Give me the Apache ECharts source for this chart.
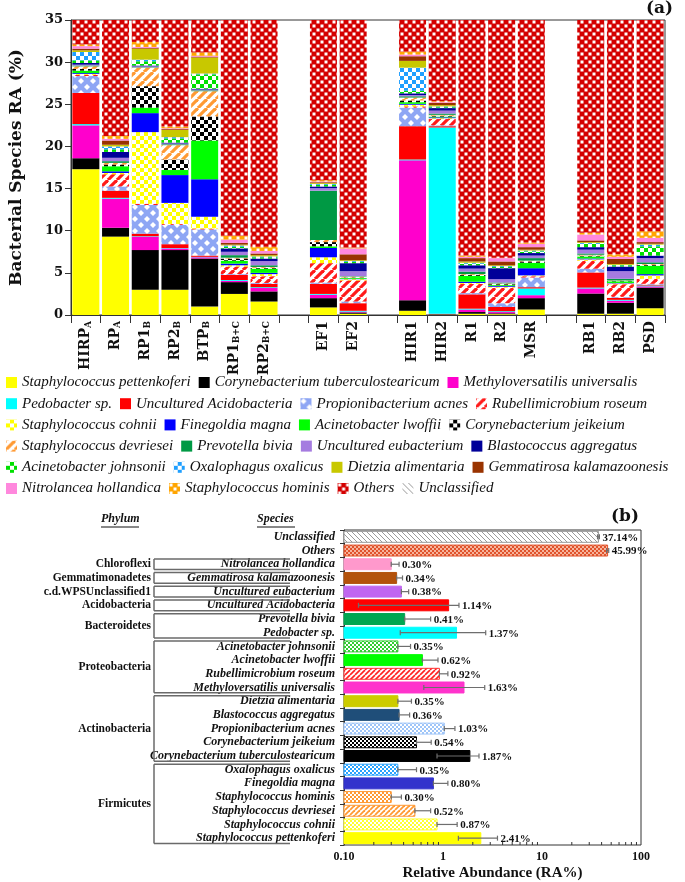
<!DOCTYPE html>
<html>
<head>
<meta charset="utf-8">
<title>Bacterial species RA</title>
<script src="https://cdn.jsdelivr.net/npm/echarts@6/dist/echarts.min.js"></script>
<style>
  html, body { margin: 0; padding: 0; background: #fff; }
  #chart { width: 685px; height: 882px; }
</style>
</head>
<body>
<div id="chart"></div>
<script>
// ---------- panel (a): species RA per sample (stack order bottom -> top) ----------
var samples = ['HIRP_A', 'RP_A', 'RP1_B', 'RP2_B', 'BTP_B', 'RP1_B+C', 'RP2_B+C',
               'EF1', 'EF2', 'HIR1', 'HIR2', 'R1', 'R2', 'MSR', 'RB1', 'RB2', 'PSD'];
var groupSizes = [7, 2, 5, 3];

var sPettenkoferi  = [17.3, 9.3, 3.0, 3.0, 1.0, 2.5, 1.6, 0.9, 0.15, 0.5, 0.05, 0.15, 0.1, 0.65, 0.15, 0.15, 0.8];
var cTuberculo     = [1.3, 1.05, 4.7, 4.7, 5.7, 1.4, 1.2, 1.1, 0.15, 1.25, 0.05, 0.2, 0.1, 1.35, 2.4, 1.3, 2.45];
var mUniversalis   = [3.9, 3.45, 1.6, 0.2, 0.15, 0.15, 0.4, 0.4, 0.1, 16.6, 0.05, 0.3, 0.15, 0.35, 0.6, 0.25, 0.15];
var pedobacter     = [0.15, 0.1, 0.05, 0.05, 0.05, 0.1, 0.1, 0.1, 0.1, 0.1, 22.1, 0.1, 0.1, 0.8, 0.1, 0.1, 0.1];
var uAcidobacteria = [3.7, 0.85, 0.3, 0.45, 0.15, 0.6, 0.4, 1.2, 0.9, 3.95, 0.15, 1.7, 0.5, 0.15, 1.8, 0.25, 0.1];
var pAcnes         = [2.0, 0.5, 3.4, 2.3, 3.1, 0.1, 0.1, 0.15, 0.2, 2.2, 0.1, 0.15, 0.45, 1.15, 0.45, 0.1, 0.1];
var rRoseum        = [0.15, 1.45, 0.15, 0.1, 0.1, 0.9, 0.8, 2.3, 2.5, 0.15, 0.75, 1.1, 1.85, 0.15, 0.95, 1.5, 0.6];
var sCohnii        = [0.1, 0.15, 8.5, 2.5, 1.4, 0.15, 0.25, 0.7, 0.15, 0.2, 0.1, 0.1, 0.1, 0.1, 0.15, 0.1, 0.4];
var fMagna         = [0.1, 0.2, 2.25, 3.3, 4.45, 0.2, 0.15, 1.1, 0.05, 0.1, 0.1, 0.15, 0.1, 0.85, 0.1, 0.05, 0.15];
var aLwoffii       = [0.3, 0.6, 0.65, 0.6, 4.6, 0.35, 0.5, 0.2, 0.1, 0.2, 0.1, 0.7, 0.1, 0.65, 0.25, 0.2, 1.0];
var cJeikeium      = [0.2, 0.2, 2.55, 1.25, 2.85, 0.25, 0.1, 0.5, 0.05, 0.2, 0.1, 0.1, 0.1, 0.15, 0.1, 0.05, 0.1];
var sDevriesei     = [0.3, 0.2, 2.2, 1.7, 3.0, 0.1, 0.1, 0.25, 0.1, 0.35, 0.1, 0.1, 0.1, 0.1, 0.1, 0.05, 0.1];
var pBivia         = [0.1, 0.2, 0.05, 0.1, 0.1, 0.3, 0.2, 5.85, 0.05, 0.15, 0.15, 0.3, 0.1, 0.3, 0.15, 0.2, 0.2];
var uEubacterium   = [0.1, 0.4, 0.1, 0.1, 0.1, 0.4, 0.5, 0.3, 0.6, 0.15, 0.35, 0.35, 0.4, 0.3, 0.45, 0.9, 0.5];
var bAggregatus    = [0.2, 0.7, 0.1, 0.1, 0.1, 0.4, 0.3, 0.2, 0.95, 0.2, 0.3, 0.4, 1.3, 0.3, 0.3, 0.55, 0.3];
var aJohnsonii     = [0.3, 0.3, 0.5, 0.5, 1.7, 0.2, 0.15, 0.2, 0.15, 0.3, 0.1, 0.2, 0.15, 0.2, 0.4, 0.15, 1.1];
var oOxalicus      = [1.0, 0.35, 0.2, 0.15, 0.1, 0.15, 0.1, 0.1, 0.1, 2.75, 0.1, 0.1, 0.1, 0.1, 0.1, 0.05, 0.2];
var dAlimentaria   = [0.2, 0.2, 1.3, 0.85, 1.9, 0.1, 0.15, 0.1, 0.1, 0.8, 0.15, 0.15, 0.1, 0.1, 0.1, 0.1, 0.1];
var gKalamazoo     = [0.2, 0.5, 0.1, 0.1, 0.1, 0.2, 0.2, 0.1, 0.7, 0.55, 0.25, 0.4, 0.45, 0.3, 0.2, 0.6, 0.2];
var nHollandica    = [0.3, 0.2, 0.1, 0.1, 0.1, 0.4, 0.3, 0.1, 0.7, 0.2, 0.1, 0.15, 0.4, 0.4, 0.7, 0.25, 0.5];
var sHominis       = [0.2, 0.35, 0.6, 0.2, 0.4, 0.45, 0.5, 0.15, 0.1, 0.35, 0.1, 0.15, 0.05, 0.15, 0.2, 0.3, 0.8];
var others         = [40, 45, 38, 44, 42, 50, 52, 48, 55, 36, 41, 58, 57, 53, 51, 56, 50];
var unclassified   = [28, 33, 30, 34, 27, 41, 40, 36, 37, 33, 34, 35, 36, 38, 39, 37, 40];

var speciesNames = ['Staphylococcus pettenkoferi', 'Corynebacterium tuberculostearicum', 'Methyloversatilis universalis',
  'Pedobacter sp.', 'Uncultured Acidobacteria', 'Propionibacterium acnes', 'Rubellimicrobium roseum',
  'Staphylococcus cohnii', 'Finegoldia magna', 'Acinetobacter lwoffii', 'Corynebacterium jeikeium',
  'Staphylococcus devriesei', 'Prevotella bivia', 'Uncultured eubacterium', 'Blastococcus aggregatus',
  'Acinetobacter johnsonii', 'Oxalophagus oxalicus', 'Dietzia alimentaria', 'Gemmatirosa kalamazoonesis',
  'Nitrolancea hollandica', 'Staphylococcus hominis', 'Others', 'Unclassified'];
var speciesData = [sPettenkoferi, cTuberculo, mUniversalis, pedobacter, uAcidobacteria, pAcnes, rRoseum,
  sCohnii, fMagna, aLwoffii, cJeikeium, sDevriesei, pBivia, uEubacterium, bAggregatus, aJohnsonii,
  oOxalicus, dAlimentaria, gKalamazoo, nHollandica, sHominis, others, unclassified];

// ---------- panel (b): mean RA (%) with error bars, top -> bottom ----------
var abSpecies = ['Unclassified', 'Others', 'Nitrolancea hollandica', 'Gemmatirosa kalamazoonesis',
  'Uncultured eubacterium', 'Uncultured Acidobacteria', 'Prevotella bivia', 'Pedobacter sp.',
  'Acinetobacter johnsonii', 'Acinetobacter lwoffii', 'Rubellimicrobium roseum', 'Methyloversatilis universalis',
  'Dietzia alimentaria', 'Blastococcus aggregatus', 'Propionibacterium acnes', 'Corynebacterium jeikeium',
  'Corynebacterium tuberculostearicum', 'Oxalophagus oxalicus', 'Finegoldia magna', 'Staphylococcus hominis',
  'Staphylococcus devriesei', 'Staphylococcus cohnii', 'Staphylococcus pettenkoferi'];
var abMean = [37.14, 45.99, 0.30, 0.34, 0.38, 1.14, 0.41, 1.37, 0.35, 0.62, 0.92, 1.63,
              0.35, 0.36, 1.03, 0.54, 1.87, 0.35, 0.80, 0.30, 0.52, 0.87, 2.41];
var abLow  = [36.4, 44.9, 0.30, 0.34, 0.38, 0.14, 0.41, 0.37, 0.35, 0.62, 0.92, 0.64,
              0.35, 0.36, 1.03, 0.54, 0.87, 0.35, 0.80, 0.30, 0.52, 0.87, 1.43];
var abHigh = [38.0, 47.2, 0.36, 0.39, 0.45, 1.45, 0.75, 2.70, 0.47, 0.89, 1.12, 2.64,
              0.48, 0.46, 1.32, 0.76, 2.31, 0.54, 1.12, 0.38, 0.75, 1.39, 3.55];
var phyla      = ['Chloroflexi', 'Gemmatimonadetes', 'c.d.WPSUnclassified1', 'Acidobacteria',
                  'Bacteroidetes', 'Proteobacteria', 'Actinobacteria', 'Firmicutes'];
var phylumFrom = [2, 3, 4, 5, 6, 8, 12, 17];
var phylumTo   = [2, 3, 4, 5, 7, 11, 16, 22];
var xMinorTicks = [0.2, 0.3, 0.4, 0.5, 0.6, 0.7, 0.8, 0.9, 2, 3, 4, 5, 6, 7, 8, 9, 20, 30, 40, 50, 60, 70, 80, 90];

// ---------- fills ----------
function tile(size, draw) {
  var c = document.createElement('canvas');
  c.width = c.height = size;
  draw(c.getContext('2d'), size);
  return { image: c, repeat: 'repeat' };
}
function checker(bg, fg, s) {
  return tile(2 * s, function (x) {
    x.fillStyle = bg; x.fillRect(0, 0, 2 * s, 2 * s);
    x.fillStyle = fg; x.fillRect(0, 0, s, s); x.fillRect(s, s, s, s);
  });
}
function stripes(bg, fg, s, w, back) {
  return tile(s, function (x) {
    x.fillStyle = bg; x.fillRect(0, 0, s, s);
    x.strokeStyle = fg; x.lineWidth = w;
    for (var k = -s; k <= s; k += s) {
      x.beginPath();
      if (back) { x.moveTo(k, 0); x.lineTo(k + s, s); } else { x.moveTo(k, s); x.lineTo(k + s, 0); }
      x.stroke();
    }
  });
}
function diamonds(bg, fg, s, r) {
  return tile(s, function (x) {
    x.fillStyle = bg; x.fillRect(0, 0, s, s);
    x.fillStyle = fg;
    [[s / 4, s / 4], [3 * s / 4, 3 * s / 4]].forEach(function (p) {
      x.beginPath(); x.moveTo(p[0], p[1] - r); x.lineTo(p[0] + r, p[1]);
      x.lineTo(p[0], p[1] + r); x.lineTo(p[0] - r, p[1]); x.closePath(); x.fill();
    });
  });
}
function spots(bg, fg, s, w) {
  return tile(s, function (x) {
    x.fillStyle = bg; x.fillRect(0, 0, s, s);
    x.fillStyle = fg; x.fillRect(0.5, 0.5, w, w); x.fillRect(s / 2 + 0.5, s / 2 + 0.5, w, w);
  });
}

var fillsA = ['#ffff00', '#000000', '#ff00cc', '#00ffff', '#ff0000',
  diamonds('#8ea6f4', '#ffffff', 12, 3), stripes('#ffffff', '#ff1a1a', 9, 3.2),
  checker('#ffff00', '#ffffff', 4), '#0000ff', '#00ff00', checker('#000000', '#ffffff', 4),
  stripes('#ffffff', '#ff9a33', 9, 3.2), '#009944', '#a57be0', '#000099', checker('#00e000', '#ffffff', 4),
  checker('#1e9fff', '#ffffff', 4), '#c8c800', '#993300', '#ff88dd', spots('#ffa500', '#ffffff', 8, 3),
  spots('#d40000', '#ffffff', 8, 3), stripes('#ffffff', '#999999', 6, 1, true)];

var fillsB = ['#ffffff', '#e0532c', '#ff99cc', '#b3520b', '#c066f0', '#ff0000', '#00a651', '#00ffff',
  '#33cc33', '#00ff00', '#ff3333', '#ff33cc', '#cccc00', '#1f4e79', '#9fc5f8', '#000000', '#000000',
  '#29a3ff', '#3333cc', '#ff9933', '#ff9933', '#ffff33', '#ffff00'];
var patB = {
  0: stripes('#ffffff', '#9a9a9a', 5, 1, true), 1: checker('#e0532c', '#f7b49c', 2),
  8: checker('#33cc33', '#ffffff', 2), 10: stripes('#ffffff', '#ff2020', 5, 1.6),
  14: checker('#9fc5f8', '#ffffff', 2), 15: checker('#000000', '#ffffff', 2),
  17: checker('#29a3ff', '#ffffff', 2), 19: checker('#ff9933', '#ffffff', 2),
  20: stripes('#ffffff', '#ff9933', 5, 1.8), 21: checker('#ffff33', '#ffffff', 2)
};

// ---------- categories with gaps between sample groups ----------
var categories = [];
(function () {
  var k = 0;
  groupSizes.forEach(function (n, g) {
    if (g > 0) categories.push('gap' + g);
    for (var i = 0; i < n; i++) categories.push(samples[k++]);
  });
})();
function withGaps(arr) {
  var out = [], k = 0;
  categories.forEach(function (c) { out.push(c.indexOf('gap') === 0 ? '-' : arr[k++]); });
  return out;
}

var SERIF = 'DejaVu Serif';
var LIB = 'Liberation Serif';

var seriesA = speciesNames.map(function (name, i) {
  return {
    name: name, type: 'bar', stack: 'a', xAxisIndex: 0, yAxisIndex: 0,
    barWidth: 27, data: withGaps(speciesData[i]),
    itemStyle: { color: fillsA[i] }
  };
});

var legendRows = [
  speciesNames.slice(0, 3), speciesNames.slice(3, 7), speciesNames.slice(7, 11),
  speciesNames.slice(11, 15), speciesNames.slice(15, 19), speciesNames.slice(19, 23)
];
var legends = legendRows.map(function (row, r) {
  return {
    data: row, left: 1, top: 370 + r * 21.2, orient: 'horizontal',
    icon: 'rect', itemWidth: 11, itemHeight: 11, itemGap: 8, selectedMode: false,
    textStyle: { fontFamily: LIB, fontStyle: 'italic', fontSize: 15, color: '#111' }
  };
});

// panel (b) custom renderers
function bandH(params) { return params.coordSys.height / abSpecies.length; }

var seriesB = [
  {
    type: 'custom', name: 'abBars', xAxisIndex: 1, yAxisIndex: 1,
    encode: { x: 0, y: 1 },
    data: abMean.map(function (v, i) { return [v, i]; }),
    renderItem: function (params, api) {
      var i = api.value(1);
      var p0 = api.coord([0.1, i]), p1 = api.coord([api.value(0), i]);
      var h = bandH(params) * 0.8;
      var fill = patB[i] || fillsB[i];
      return {
        type: 'rect',
        shape: { x: p0[0], y: p0[1] - h / 2, width: p1[0] - p0[0], height: h },
        style: { fill: fill, stroke: i === 0 ? '#999' : fillsB[i], lineWidth: 1 }
      };
    }
  },
  {
    type: 'custom', name: 'abErr', xAxisIndex: 1, yAxisIndex: 1,
    encode: { x: [0, 1], y: 2 },
    data: abMean.map(function (v, i) { return [abLow[i], abHigh[i], i, v]; }),
    renderItem: function (params, api) {
      var i = api.value(2);
      var a = api.coord([api.value(0), i]), b = api.coord([api.value(1), i]);
      var y = a[1], c = 2.5;
      var st = { stroke: '#6e6e6e', lineWidth: 1.2 };
      return {
        type: 'group', children: [
          { type: 'line', shape: { x1: a[0], y1: y, x2: b[0], y2: y }, style: st },
          { type: 'line', shape: { x1: a[0], y1: y - c, x2: a[0], y2: y + c }, style: st },
          { type: 'line', shape: { x1: b[0], y1: y - c, x2: b[0], y2: y + c }, style: st },
          { type: 'text', style: { text: api.value(3).toFixed(2) + '%', x: b[0] + 3, y: y + 1,
              align: 'left', verticalAlign: 'middle', fill: '#111',
              font: 'bold 11px "Liberation Serif"' } }
        ]
      };
    }
  },
  {
    type: 'custom', name: 'phyla', xAxisIndex: 1, yAxisIndex: 1,
    encode: { x: 2, y: [0, 1] },
    data: phyla.map(function (p, k) { return [phylumFrom[k], phylumTo[k], 1]; }),
    renderItem: function (params, api) {
      var k = params.dataIndex;
      var bh = bandH(params);
      var top = api.coord([1, api.value(0)])[1] - bh / 2 + 1.5;
      var bot = api.coord([1, api.value(1)])[1] + bh / 2 - 1.5;
      var x0 = params.coordSys.x;
      var xv = x0 - 190, xr = x0 - 54;
      var st = { stroke: '#6a6a6a', lineWidth: 1.5 };
      return {
        type: 'group', children: [
          { type: 'line', shape: { x1: xv, y1: top, x2: xv, y2: bot }, style: st },
          { type: 'line', shape: { x1: xv, y1: top, x2: xr, y2: top }, style: st },
          { type: 'line', shape: { x1: xv, y1: bot, x2: xr, y2: bot }, style: st },
          { type: 'text', style: { text: phyla[k], x: xv - 3, y: (top + bot) / 2,
              align: 'right', verticalAlign: 'middle', fill: '#111',
              font: 'bold 11.5px "Liberation Serif"' } }
        ]
      };
    }
  },
  {
    type: 'custom', name: 'minorTicks', xAxisIndex: 1, yAxisIndex: 1,
    encode: { x: 0, y: 1 },
    data: xMinorTicks.map(function (v) { return [v, 0]; }),
    renderItem: function (params, api) {
      var x = api.coord([api.value(0), 0])[0];
      var b = params.coordSys.y + params.coordSys.height;
      return { type: 'line', shape: { x1: x, y1: b, x2: x, y2: b - 3 }, style: { stroke: '#333', lineWidth: 1 } };
    }
  }
];

var chart = echarts.init(document.getElementById('chart'));
chart.setOption({
  animation: false,
  backgroundColor: '#ffffff',
  legend: legends,
  grid: [
    { left: 70, right: 20, top: 20, height: 295, show: true, borderColor: '#333', borderWidth: 1 },
    { left: 344, right: 44, top: 530, height: 317, show: true, borderColor: '#333', borderWidth: 1 }
  ],
  xAxis: [
    {
      type: 'category', gridIndex: 0, data: categories,
      axisLine: { lineStyle: { color: '#333', width: 1 } },
      axisTick: { show: true, interval: 0, length: 8, lineStyle: { color: '#333' } },
      axisLabel: {
        interval: 0, rotate: 90, margin: 6, color: '#111',
        fontFamily: SERIF, fontWeight: 'bold', fontSize: 14,
        formatter: function (v) {
          if (v.indexOf('gap') === 0) return '';
          var p = v.split('_');
          return p.length > 1 ? p[0] + '{s|' + p[1] + '}' : v;
        },
        rich: { s: { fontFamily: SERIF, fontWeight: 'bold', fontSize: 9, verticalAlign: 'bottom', color: '#111' } }
      }
    },
    {
      type: 'log', gridIndex: 1, min: 0.1, max: 100, logBase: 10,
      name: 'Relative Abundance (RA%)', nameLocation: 'middle', nameGap: 21,
      nameTextStyle: { fontFamily: LIB, fontWeight: 'bold', fontSize: 15, color: '#111' },
      axisLine: { lineStyle: { color: '#333' } },
      axisTick: { inside: true, length: 6, lineStyle: { color: '#333' } },
      splitLine: { show: false },
      axisLabel: {
        margin: 6, color: '#111', fontFamily: LIB, fontWeight: 'bold', fontSize: 12,
        formatter: function (v) { return v < 0.5 ? '0.10' : String(Math.round(v)); }
      }
    }
  ],
  yAxis: [
    {
      type: 'value', gridIndex: 0, min: 0, max: 35, interval: 5,
      name: 'Bacterial Species RA (%)', nameLocation: 'middle', nameGap: 46,
      nameTextStyle: { fontFamily: SERIF, fontWeight: 'bold', fontSize: 17, color: '#111' },
      axisLine: { show: true, lineStyle: { color: '#333' } },
      axisTick: { show: true, length: 6, lineStyle: { color: '#333' } },
      splitLine: { show: false },
      axisLabel: { margin: 8, color: '#111', fontFamily: SERIF, fontWeight: 'bold', fontSize: 13 }
    },
    {
      type: 'category', gridIndex: 1, data: abSpecies, inverse: true,
      axisLine: { lineStyle: { color: '#333' } },
      axisTick: { show: true, interval: 0, length: 4, lineStyle: { color: '#333' } },
      axisLabel: {
        interval: 0, margin: 9, color: '#111', fontFamily: LIB,
        fontWeight: 'bold', fontStyle: 'italic', fontSize: 12
      }
    }
  ],
  graphic: [
    { type: 'text', right: 12, top: 0, style: { text: '(a)', font: 'bold 17px "DejaVu Serif"', fill: '#111' } },
    { type: 'text', left: 611, top: 508, style: { text: '(b)', font: 'bold 17px "DejaVu Serif"', fill: '#111' } },
    { type: 'text', left: 101, top: 513, style: { text: 'Phylum', font: 'italic bold 12px "Liberation Serif"', fill: '#111' } },
    { type: 'line', shape: { x1: 101, y1: 527, x2: 139, y2: 527 }, style: { stroke: '#111', lineWidth: 1 } },
    { type: 'text', left: 257, top: 513, style: { text: 'Species', font: 'italic bold 12px "Liberation Serif"', fill: '#111' } },
    { type: 'line', shape: { x1: 257, y1: 527, x2: 295, y2: 527 }, style: { stroke: '#111', lineWidth: 1 } }
  ],
  series: seriesA.concat(seriesB)
});
</script>
</body>
</html>
